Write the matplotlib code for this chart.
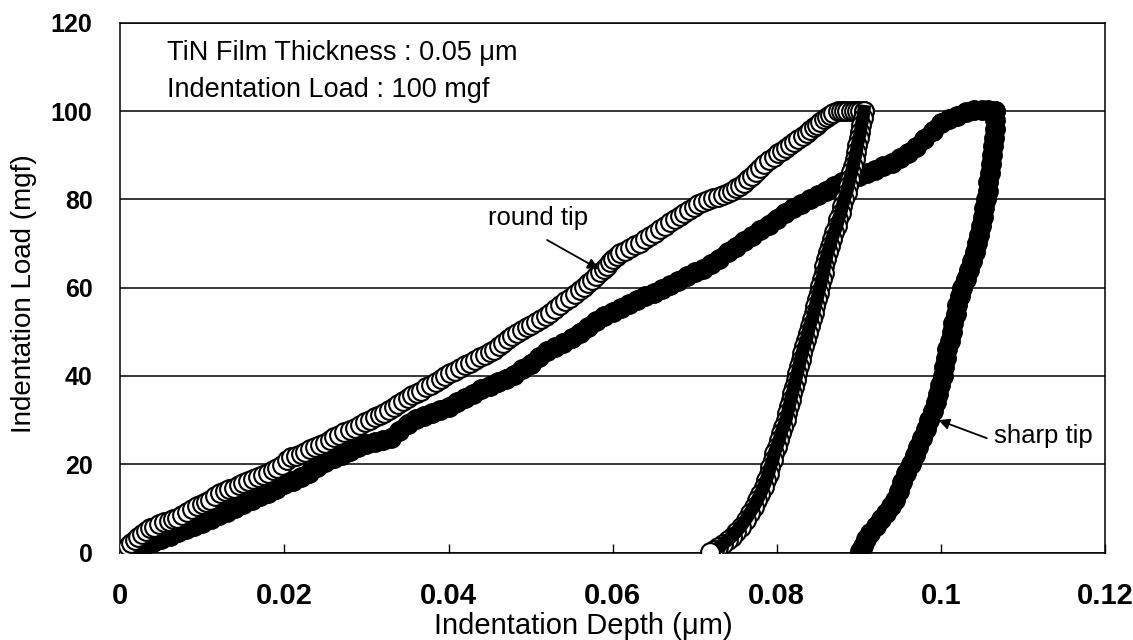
import matplotlib
matplotlib.use('Agg')
import matplotlib.pyplot as plt
from matplotlib import font_manager

# Round tip: loading, hold, unloading (depth in um, load in mgf)
round_load_x = [0.0000, 0.0004, 0.0009, 0.0013, 0.0018, 0.0022, 0.0027, 0.0031, 0.0036,
                0.0041, 0.0047, 0.0053, 0.0059, 0.0064, 0.0069, 0.0075, 0.0081, 0.0087, 0.0093,
                0.0099, 0.0104, 0.0109, 0.0115, 0.0121, 0.0127, 0.0133, 0.0139, 0.0145, 0.0150,
                0.0156, 0.0162, 0.0168, 0.0174, 0.0180, 0.0186, 0.0191, 0.0197, 0.0203, 0.0208,
                0.0214, 0.0220, 0.0225, 0.0231, 0.0237, 0.0243, 0.0249, 0.0255, 0.0261, 0.0267,
                0.0273, 0.0280, 0.0286, 0.0292, 0.0298, 0.0304, 0.0310, 0.0316, 0.0321, 0.0327,
                0.0333, 0.0339, 0.0345, 0.0351, 0.0356, 0.0361, 0.0367, 0.0373, 0.0379, 0.0385,
                0.0391, 0.0396, 0.0402, 0.0408, 0.0414, 0.0420, 0.0426, 0.0432, 0.0438, 0.0444,
                0.0450, 0.0455, 0.0461, 0.0466, 0.0472, 0.0477, 0.0483, 0.0489, 0.0495, 0.0501,
                0.0507, 0.0513, 0.0519, 0.0524, 0.0530, 0.0536, 0.0542, 0.0548, 0.0554, 0.0560,
                0.0565, 0.0570, 0.0575, 0.0580, 0.0585, 0.0589, 0.0593, 0.0597, 0.0601, 0.0605,
                0.0609, 0.0615, 0.0621, 0.0627, 0.0633, 0.0640, 0.0646, 0.0652, 0.0658, 0.0664,
                0.0670, 0.0676, 0.0682, 0.0687, 0.0693, 0.0699, 0.0704, 0.0710, 0.0716, 0.0722,
                0.0728, 0.0734, 0.0740, 0.0745, 0.0750, 0.0755, 0.0760, 0.0765, 0.0770, 0.0775,
                0.0780, 0.0785, 0.0790, 0.0796, 0.0801, 0.0806, 0.0811, 0.0816, 0.0821, 0.0826,
                0.0832, 0.0837, 0.0841, 0.0845, 0.0849, 0.0853, 0.0857, 0.0861, 0.0865, 0.0869,
                0.0874, 0.0878, 0.0882, 0.0886, 0.0890, 0.0894, 0.0898, 0.0902, 0.0906]
round_load_y = [0.0, 0.8, 1.5, 2.2, 2.9, 3.5, 4.3, 4.9, 5.5,
                5.9, 6.4, 6.9, 7.2, 7.5, 7.8, 8.6, 9.3, 9.9, 10.5,
                11.0, 11.5, 12.0, 12.7, 13.4, 13.9, 14.3, 14.7, 15.2, 15.7,
                16.2, 16.7, 17.2, 17.6, 18.1, 18.6, 19.1, 19.9, 21.0, 21.6,
                21.9, 22.3, 22.8, 23.4, 23.9, 24.4, 24.9, 25.5, 26.1, 26.6,
                27.2, 27.8, 28.3, 28.9, 29.5, 30.0, 30.6, 31.1, 31.6, 32.3,
                33.0, 33.6, 34.3, 35.0, 35.6, 36.1, 36.7, 37.4, 38.0, 38.7,
                39.4, 40.0, 40.6, 41.2, 41.8, 42.4, 43.0, 43.6, 44.2, 44.8,
                45.4, 45.9, 46.7, 47.5, 48.3, 49.0, 49.7, 50.4, 51.0, 51.6,
                52.3, 53.0, 53.6, 54.2, 55.1, 56.0, 56.9, 57.7, 58.6, 59.4,
                60.2, 61.0, 61.8, 62.6, 63.5, 64.2, 64.8, 65.7, 66.5, 67.2,
                67.8, 68.4, 69.0, 69.6, 70.2, 71.0, 71.6, 72.4, 73.2, 74.0,
                74.8, 75.6, 76.3, 76.9, 77.6, 78.3, 78.9, 79.4, 79.8, 80.2,
                80.6, 81.0, 81.4, 82.0, 82.6, 83.1, 83.6, 84.5, 85.3, 86.2,
                87.0, 87.9, 88.8, 89.7, 90.4, 91.0, 91.7, 92.3, 93.0, 93.6,
                94.3, 95.0, 95.7, 96.3, 96.9, 97.5, 98.1, 98.7, 99.2, 99.6,
                99.9, 100.0, 100.1, 100.0, 100.1, 100.0, 100.1, 100.0, 99.9]

round_unload_x = [0.0906, 0.0905, 0.0903, 0.0902, 0.0900, 0.0898, 0.0897, 0.0895, 0.0893, 0.0891,
                  0.0889, 0.0887, 0.0885, 0.0882, 0.0880, 0.0878, 0.0875, 0.0873, 0.0870, 0.0867,
                  0.0865, 0.0862, 0.0860, 0.0858, 0.0857, 0.0855, 0.0853, 0.0851, 0.0849, 0.0847,
                  0.0845, 0.0843, 0.0840, 0.0838, 0.0836, 0.0833, 0.0831, 0.0829, 0.0827, 0.0825,
                  0.0823, 0.0821, 0.0819, 0.0817, 0.0815, 0.0813, 0.0811, 0.0808, 0.0805, 0.0803,
                  0.0800, 0.0797, 0.0795, 0.0792, 0.0790, 0.0787, 0.0784, 0.0780, 0.0776, 0.0772,
                  0.0767, 0.0762, 0.0756, 0.0750, 0.0745, 0.0740, 0.0734, 0.0728, 0.0723, 0.0719]
round_unload_y = [99.9, 98.4, 96.8, 95.3, 93.8, 92.2, 90.7, 89.2, 87.6, 86.1,
                  84.6, 83.0, 81.5, 80.0, 78.5, 77.0, 75.5, 74.0, 72.5, 71.0,
                  69.5, 68.0, 66.4, 64.9, 63.4, 61.9, 60.4, 58.9, 57.4, 55.8,
                  54.3, 52.8, 51.3, 49.8, 48.2, 46.7, 45.2, 43.7, 42.2, 40.6,
                  39.1, 37.6, 36.1, 34.6, 33.1, 31.5, 30.0, 28.5, 27.0, 25.5,
                  24.0, 22.5, 20.9, 19.4, 17.9, 16.4, 14.9, 13.3, 11.8, 10.4,
                  8.9, 7.4, 5.9, 4.6, 3.6, 2.8, 1.9, 1.2, 0.6, 0.2]

# Sharp tip: loading + hold, then unloading
sharp_load_x = [0.000, 0.001, 0.002, 0.003, 0.004, 0.005, 0.006, 0.007, 0.008, 0.009,
                0.010, 0.011, 0.012, 0.013, 0.014, 0.015, 0.016, 0.017, 0.018, 0.019,
                0.020, 0.021, 0.022, 0.023, 0.024, 0.025, 0.026, 0.027, 0.028, 0.029,
                0.030, 0.031, 0.032, 0.033, 0.034, 0.035, 0.036, 0.037, 0.038, 0.039,
                0.040, 0.041, 0.042, 0.043, 0.044, 0.045, 0.046, 0.047, 0.048, 0.049,
                0.050, 0.051, 0.052, 0.053, 0.054, 0.055, 0.056, 0.057, 0.058, 0.059,
                0.060, 0.061, 0.062, 0.063, 0.064, 0.065, 0.066, 0.067, 0.068, 0.069,
                0.070, 0.071, 0.072, 0.073, 0.074, 0.075, 0.076, 0.077, 0.078, 0.079,
                0.080, 0.081, 0.082, 0.083, 0.084, 0.085, 0.086, 0.087, 0.088, 0.089,
                0.090, 0.091, 0.092, 0.093, 0.094, 0.095, 0.096, 0.097, 0.098, 0.099,
                0.100, 0.101, 0.102, 0.103, 0.104, 0.105, 0.1058, 0.1066]
sharp_load_y = [0.0, 0.6, 1.2, 1.8, 2.4, 3.1, 3.8, 4.6, 5.3, 6.0,
                6.8, 7.6, 8.5, 9.3, 10.2, 11.0, 11.9, 12.7, 13.6, 14.5,
                15.5, 16.3, 17.1, 18.0, 19.3, 20.5, 21.5, 22.2, 23.0, 23.8,
                24.6, 25.0, 25.4, 26.0, 27.5, 29.2, 30.3, 31.0, 31.7, 32.3,
                33.0, 34.0, 35.0, 36.0, 37.0, 37.8, 38.6, 39.4, 40.3, 41.5,
                42.8, 44.2, 45.6, 46.6, 47.4, 48.5, 49.8, 51.2, 52.5, 53.6,
                54.5, 55.3, 56.3, 57.2, 58.0, 58.8, 59.6, 60.5, 61.5, 62.6,
                63.5, 64.2, 65.3, 66.6, 68.0, 69.3, 70.6, 71.8, 73.0, 74.3,
                75.6, 76.9, 78.0, 79.0, 80.0, 81.0, 82.0, 83.0, 84.0, 84.6,
                85.2, 85.9, 86.7, 87.5, 88.3, 89.3, 90.4, 91.8, 93.6, 95.4,
                97.2, 98.3, 98.8, 99.8, 100.2, 100.3, 100.2, 100.0]

sharp_unload_x = [0.1066, 0.1066, 0.1066, 0.1065, 0.1064, 0.1062, 0.1061, 0.1060, 0.1058, 0.1057,
                  0.1055, 0.1053, 0.1051, 0.1049, 0.1047, 0.1044, 0.1041, 0.1038, 0.1034, 0.1030,
                  0.1026, 0.1023, 0.1020, 0.1018, 0.1015, 0.1013, 0.1011, 0.1008, 0.1006, 0.1004,
                  0.1002, 0.0999, 0.0997, 0.0994, 0.0990, 0.0986, 0.0982, 0.0977, 0.0972, 0.0968,
                  0.0963, 0.0958, 0.0953, 0.0949, 0.0944, 0.0939, 0.0933, 0.0927, 0.0921, 0.0914,
                  0.0909, 0.0905, 0.0902]
sharp_unload_y = [100.0, 98.0, 96.0, 94.0, 92.0, 90.0, 88.0, 86.0, 84.0, 82.0,
                  80.0, 78.0, 76.0, 74.0, 72.0, 70.0, 68.0, 66.0, 64.0, 62.0,
                  60.0, 58.0, 56.0, 54.0, 52.0, 50.0, 48.0, 46.0, 44.0, 42.0,
                  40.0, 38.0, 36.0, 34.0, 32.0, 30.0, 28.0, 26.0, 24.0, 22.0,
                  20.0, 18.0, 16.0, 14.0, 12.0, 10.5, 9.0, 7.5, 6.0, 4.5,
                  3.0, 1.6, 0.4]

x_ticks = [0, 0.02, 0.04, 0.06, 0.08, 0.1, 0.12]
x_tick_labels = ['0', '0.02', '0.04', '0.06', '0.08', '0.1', '0.12']
y_ticks = [0, 20, 40, 60, 80, 100, 120]

# fonts: narrow face for the x tick labels if it is there
installed = {f.name for f in font_manager.fontManager.ttflist}
sans = 'Liberation Sans' if 'Liberation Sans' in installed else 'DejaVu Sans'
if 'Liberation Sans Narrow' in installed:
    narrow, narrow_size = 'Liberation Sans Narrow', 25
else:
    narrow, narrow_size = sans, 21

fig = plt.figure(figsize=(11.33, 6.4), dpi=100)
ax = fig.add_axes([0.1062, 0.1366, 0.8691, 0.8279])

# sharp tip: black filled circles on a thick black band
ax.plot(sharp_load_x + sharp_unload_x, sharp_load_y + sharp_unload_y, '-',
        color='black', lw=12.5, solid_capstyle='round', zorder=2)
ax.plot(sharp_load_x + sharp_unload_x, sharp_load_y + sharp_unload_y, 'o',
        ms=14, mfc='black', mec='black', zorder=3)

# round tip: open circles
ax.plot(round_load_x, round_load_y, 'o', ms=13.5, mfc='white', mec='black', mew=1.5, zorder=4)
ax.plot(round_unload_x, round_unload_y, 'o', ms=13.5, mfc='white', mec='black', mew=1.5, zorder=4)
ax.plot(round_unload_x[:-3], round_unload_y[:-3], '-', color='black', lw=9.5, zorder=5)

ax.set_xlim(0, 0.12)
ax.set_ylim(0, 120)
ax.set_xticks(x_ticks)
ax.set_xticklabels(x_tick_labels, family=narrow, fontsize=narrow_size, fontweight='bold')
ax.set_yticks(y_ticks)
ax.set_yticklabels([str(v) for v in y_ticks], family=sans, fontsize=18, fontweight='bold')
ax.tick_params(axis='x', direction='in', length=6.5, width=1, pad=21)
ax.tick_params(axis='y', length=0, pad=20)
ax.yaxis.grid(True, color='black', lw=1.1)
ax.set_axisbelow(True)
for sp in ax.spines.values():
    sp.set_linewidth(1.1)

ax.set_xlabel('Indentation Depth (\u03bcm)', family=sans, fontsize=21)
ax.xaxis.set_label_coords(0.47, -0.112)
ax.set_ylabel('Indentation Load (mgf)', family=sans, fontsize=20)
ax.yaxis.set_label_coords(-0.085, 0.488)

ax.text(0.0057, 111.6, 'TiN Film Thickness : 0.05 \u03bcm', family=sans, fontsize=19.5,
        ha='left', va='baseline')
ax.text(0.0057, 103.2, 'Indentation Load : 100 mgf', family=sans, fontsize=19.5,
        ha='left', va='baseline')

ax.annotate('', xy=(0.0583, 64.2), xytext=(0.0520, 70.8),
            arrowprops=dict(arrowstyle='-|>', color='black', lw=1.3, mutation_scale=16,
                            shrinkA=0, shrinkB=0), zorder=6)
ax.text(0.0448, 74.2, 'round tip', family=sans, fontsize=18.5, ha='left', va='baseline')
ax.annotate('', xy=(0.0997, 30.0), xytext=(0.1056, 25.9),
            arrowprops=dict(arrowstyle='-|>', color='black', lw=1.3, mutation_scale=16,
                            shrinkA=0, shrinkB=0), zorder=6)
ax.text(0.1065, 24.9, 'sharp tip', family=sans, fontsize=18.5, ha='left', va='baseline')

fig.savefig('out.png', dpi=100)
